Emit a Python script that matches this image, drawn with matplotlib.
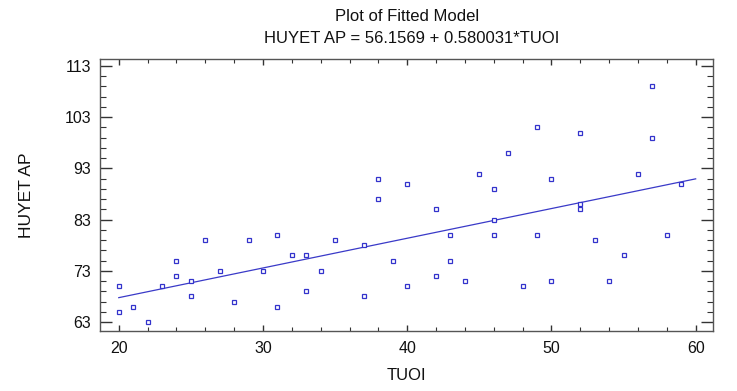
import matplotlib
matplotlib.use("Agg")
import matplotlib.pyplot as plt
from matplotlib.ticker import MultipleLocator, FixedLocator
import numpy as np

plt.rcParams['font.family'] = ['Liberation Sans', 'DejaVu Sans']

tuoi = [20, 20, 21, 22, 23, 24, 24, 25, 25, 26, 27, 28, 29, 30, 31, 31, 32, 33, 33, 34,
        35, 37, 37, 38, 38, 39, 40, 40,
        42, 42, 43, 43, 44, 45, 46, 46, 46, 47, 48, 49, 49, 50, 50, 52, 52, 52, 53, 54,
        55, 56, 57, 57, 58, 59]
huyet_ap = [70, 65, 66, 63, 70, 75, 72, 71, 68, 79, 73, 67, 79, 73, 80, 66, 76, 76, 69, 73,
            79, 68, 78, 91, 87, 75, 90, 70,
            85, 72, 80, 75, 71, 92, 89, 83, 80, 96, 70, 101, 80, 91, 71, 100, 86, 85, 79, 71,
            76, 92, 109, 99, 80, 90]
intercept = 56.1569
slope = 0.580031
fit_x = [20, 60]
x_ticks = [20, 30, 40, 50, 60]
y_ticks = [63, 73, 83, 93, 103, 113]

fig = plt.figure(figsize=(7.37, 3.91), dpi=100)
ax = fig.add_axes([0.1357, 0.1535, 0.9674 - 0.1357, 0.8483 - 0.1535])

fx = np.array(fit_x, dtype=float)
ax.plot(fx, intercept + slope * fx, color='#3a3ac8', lw=0.9, zorder=2)
ax.plot(tuoi, huyet_ap, linestyle='none', marker='s', markersize=3.2,
        markerfacecolor='white', markeredgecolor='#3333cc', markeredgewidth=0.9, zorder=3)

ax.set_xlim(18.7, 61.2)
ax.set_ylim(61.25, 114.3)
ax.set_xticks(x_ticks)
ax.set_yticks(y_ticks)
ax.xaxis.set_minor_locator(MultipleLocator(2))
ax.yaxis.set_minor_locator(FixedLocator(np.arange(63, 115, 2)))

fc = '#555555'
for s in ax.spines.values():
    s.set_color(fc)
    s.set_linewidth(1.0)
ax.tick_params(axis='x', which='major', direction='in', length=4.5, width=1, color='#333333',
               top=True, bottom=True, labelsize=11.5, pad=7.5, labelcolor='#111111')
ax.tick_params(axis='x', which='minor', direction='in', length=2.6, width=0.8, color='#333333',
               top=True, bottom=True)
ax.tick_params(axis='y', which='major', direction='in', length=8.5, width=1, color='#333333',
               left=True, right=True, labelsize=11.5, pad=6.5, labelcolor='#111111')
ax.tick_params(axis='y', which='minor', direction='in', length=4.3, width=0.8, color='#333333',
               left=True, right=True)

ax.set_xlabel('TUOI', fontsize=12, color='#111111', labelpad=8)
ax.set_ylabel('HUYET AP', fontsize=12.5, color='#111111', labelpad=22)

fig.text(0.553, 0.958, 'Plot of Fitted Model', ha='center', va='center', fontsize=12, color='#111111')
fig.text(0.559, 0.9015, 'HUYET AP = 56.1569 + 0.580031*TUOI', ha='center', va='center',
         fontsize=12, color='#111111')

fig.savefig('out.png', dpi=100, facecolor='white')
